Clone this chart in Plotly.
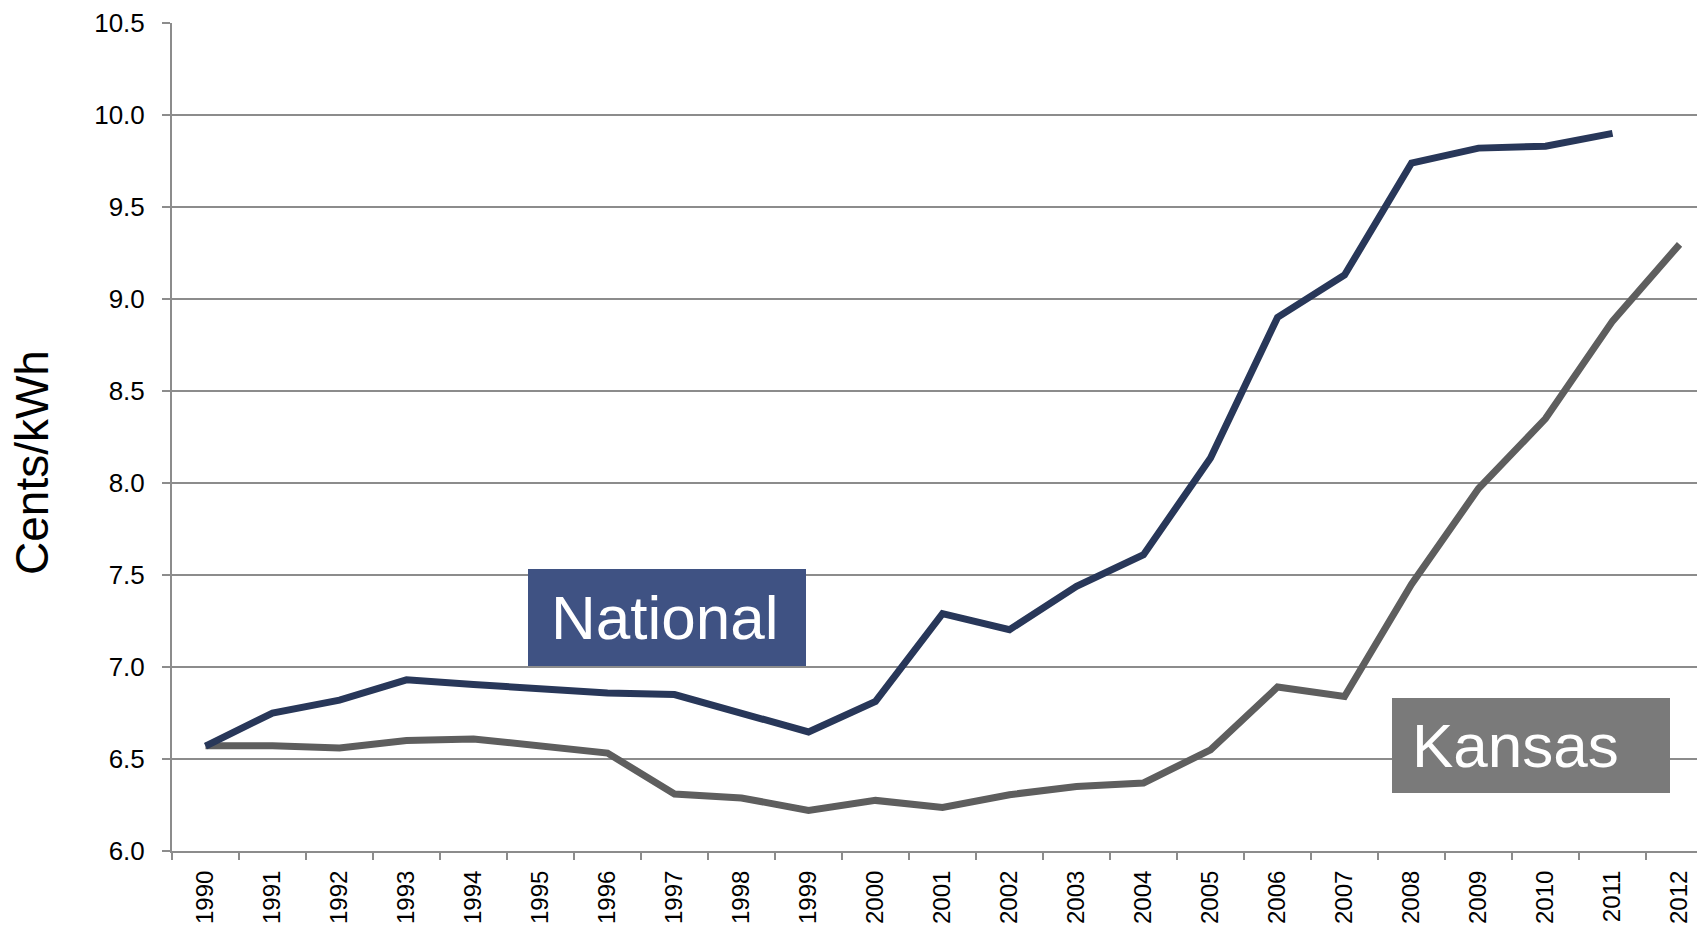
import plotly.graph_objects as go

years = [str(y) for y in range(1990, 2013)]
national = [6.57, 6.75, 6.82, 6.93, 6.905, 6.882, 6.859, 6.85, 6.746, 6.647,
            6.813, 7.29, 7.203, 7.438, 7.61, 8.136, 8.90, 9.13, 9.739, 9.82,
            9.83, 9.90, None]
kansas = [6.572, 6.572, 6.56, 6.601, 6.609, 6.568, 6.532, 6.31, 6.288, 6.221,
          6.275, 6.237, 6.306, 6.351, 6.37, 6.55, 6.891, 6.84, 7.45, 7.97,
          8.35, 8.88, 9.297]
y_ticks = [6.0, 6.5, 7.0, 7.5, 8.0, 8.5, 9.0, 9.5, 10.0, 10.5]

# page body has an 8px margin, so the figure is drawn 8px in from the top-left
OFF = 8
W, H = 1705 - OFF, 927 - OFF
# target plot area in window pixels: left 172, top 23, bottom 851, right 1705
L, T = 172 - OFF, 23 - OFF
B = H - (851 - OFF)
R = 0
PW, PH = W - L - R, H - T - B

def px(x):
    return (x - OFF - L) / PW

def py(y):
    return (H - B - (y - OFF)) / PH

FONT = "Liberation Sans, Arial, sans-serif"

fig = go.Figure()
fig.add_trace(go.Scatter(x=years, y=kansas, mode="lines", name="Kansas",
                         line=dict(color="#5E5E5E", width=7), connectgaps=False))
fig.add_trace(go.Scatter(x=years, y=national, mode="lines", name="National",
                         line=dict(color="#283759", width=7), connectgaps=False))

fig.update_layout(
    width=W, height=H,
    margin=dict(l=L, r=R, t=T, b=B, pad=0, autoexpand=False),
    paper_bgcolor="white", plot_bgcolor="white",
    showlegend=False,
    font=dict(family=FONT, color="black", size=24),
)
fig.update_xaxes(
    type="category", categoryorder="array", categoryarray=years,
    range=[-0.5, 22.38], automargin=False,
    tickson="boundaries", ticks="outside", ticklen=7, tickwidth=2, tickcolor="#8C8C8C",
    tickangle=-90, tickfont=dict(size=24, family=FONT, color="black"),
    ticklabelstandoff=8,
    showgrid=False, showline=True, linecolor="#8C8C8C", linewidth=2,
    zeroline=False,
)
fig.update_yaxes(
    range=[6.0, 10.5], automargin=False,
    tickvals=y_ticks, ticktext=[f"{v:.1f}" for v in y_ticks],
    ticks="outside", ticklen=8, tickwidth=2, tickcolor="#8C8C8C",
    tickfont=dict(size=26, family=FONT, color="black"),
    ticklabelstandoff=12,
    showgrid=True, gridcolor="#8C8C8C", gridwidth=2,
    showline=True, linecolor="#8C8C8C", linewidth=2,
    zeroline=False,
)

# label boxes
fig.add_shape(type="rect", xref="paper", yref="paper",
              x0=px(528), x1=px(806), y0=py(666), y1=py(569),
              fillcolor="#3F5283", line=dict(width=0), layer="above")
fig.add_shape(type="rect", xref="paper", yref="paper",
              x0=px(1392), x1=px(1670), y0=py(793), y1=py(698),
              fillcolor="#7A7A7A", line=dict(width=0), layer="above")
fig.add_annotation(text="National", xref="paper", yref="paper",
                   x=px(549), y=py(617), xanchor="left", yanchor="middle",
                   showarrow=False, font=dict(size=62, color="white", family=FONT))
fig.add_annotation(text="Kansas", xref="paper", yref="paper",
                   x=px(1410), y=py(745), xanchor="left", yanchor="middle",
                   showarrow=False, font=dict(size=62, color="white", family=FONT))
# y axis title
fig.add_annotation(text="Cents/kWh", xref="paper", yref="paper",
                   x=px(32), y=py(463), xanchor="center", yanchor="middle",
                   textangle=-90, showarrow=False,
                   font=dict(size=46, color="black", family=FONT))

fig.write_html("out.html")
